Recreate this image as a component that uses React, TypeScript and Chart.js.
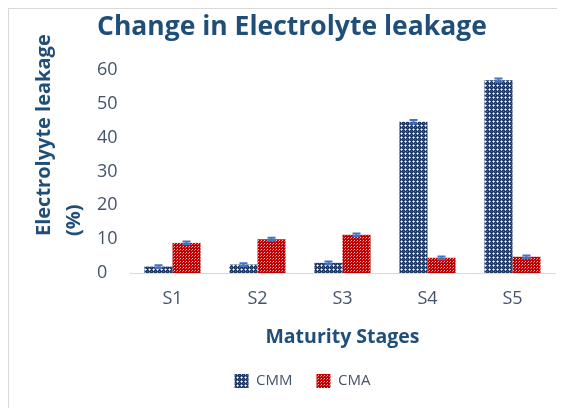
import React, { useEffect, useRef } from 'react';
import { Chart, registerables } from 'chart.js';
Chart.register(...registerables);

const categories = ['S1', 'S2', 'S3', 'S4', 'S5'];
const cmmValues = [1.9, 2.5, 3.0, 44.7, 57.0];
const cmaValues = [8.9, 10.0, 11.3, 4.5, 4.8];
const cmmErrors = [0.4, 0.4, 0.4, 0.5, 0.5];
const cmaErrors = [0.4, 0.4, 0.4, 0.4, 0.4];
const yTickValues = [0, 10, 20, 30, 40, 50, 60];
const seriesNames = ['CMM', 'CMA'];
const chartTitle = 'Change in Electrolyte leakage';
const xTitle = 'Maturity Stages';
const yTitleLines = ['Electrolyyte leakage', '(%)'];

const FONT = "'Open Sans', 'DejaVu Sans', sans-serif";
const NAVY = '#1F4E79';
const TICK = '#44546A';

function makePattern(kind: 'cmm' | 'cma'): CanvasPattern | string {
  const c = document.createElement('canvas');
  const ctx = c.getContext('2d');
  if (!ctx) return kind === 'cmm' ? '#1F3864' : '#C00000';
  if (kind === 'cmm') {
    c.width = 4; c.height = 4;
    ctx.fillStyle = '#1F3864';
    ctx.fillRect(0, 0, 4, 4);
    ctx.fillStyle = '#ffffff';
    ctx.fillRect(0, 0, 1, 1);
    ctx.fillStyle = '#c3cbdd';
    ctx.fillRect(1, 0, 1, 1);
    ctx.fillRect(0, 1, 1, 1);
    ctx.fillStyle = '#8b9bc0';
    ctx.fillRect(3, 0, 1, 1);
    ctx.fillRect(0, 3, 1, 1);
    ctx.fillStyle = '#4a67a6';
    ctx.fillRect(2, 2, 1, 1);
  } else {
    c.width = 3; c.height = 3;
    ctx.fillStyle = '#C00000';
    ctx.fillRect(0, 0, 3, 3);
    ctx.fillStyle = '#f4c6c6';
    ctx.fillRect(0, 0, 1, 1);
    ctx.fillStyle = '#e07070';
    ctx.fillRect(2, 1, 1, 1);
  }
  const p = ctx.createPattern(c, 'repeat');
  return p || (kind === 'cmm' ? '#1F3864' : '#C00000');
}

const errorBarPlugin = {
  id: 'errorBars',
  afterDatasetsDraw(chart: any) {
    const ctx = chart.ctx;
    const y = chart.scales.y;
    const errs = [cmmErrors, cmaErrors];
    const vals = [cmmValues, cmaValues];
    ctx.save();
    ctx.strokeStyle = '#4472C4';
    ctx.lineWidth = 2;
    chart.data.datasets.forEach((_: any, i: number) => {
      const meta = chart.getDatasetMeta(i);
      meta.data.forEach((bar: any, j: number) => {
        const v = vals[i][j];
        const e = errs[i][j];
        const yt = y.getPixelForValue(v + e);
        const yb = y.getPixelForValue(v - e);
        const x = bar.x;
        ctx.beginPath();
        ctx.moveTo(x, yt); ctx.lineTo(x, yb);
        ctx.moveTo(x - 4, yt); ctx.lineTo(x + 4, yt);
        ctx.moveTo(x - 4, yb); ctx.lineTo(x + 4, yb);
        ctx.stroke();
      });
    });
    ctx.restore();
  },
};

const yTitlePlugin = {
  id: 'yTitle',
  afterDraw(chart: any) {
    const ctx = chart.ctx;
    const a = chart.chartArea;
    ctx.save();
    ctx.fillStyle = NAVY;
    ctx.font = `bold 20px ${FONT}`;
    ctx.textBaseline = 'middle';
    ctx.textAlign = 'left';
    const xs = [a.left - 85.5, a.left - 56];
    yTitleLines.forEach((t, i) => {
      ctx.save();
      ctx.translate(xs[i], a.bottom - 37);
      ctx.rotate(-Math.PI / 2);
      ctx.fillText(t, 0, 0);
      ctx.restore();
    });
    ctx.restore();
  },
};

const legendShiftPlugin = {
  id: 'legendShift',
  afterLayout(chart: any) {
    const lg = chart.legend;
    if (!lg) return;
    const targetX = 293.5;
    const shift = targetX - (lg.left + lg.right) / 2;
    lg.left += shift;
    lg.right += shift;
  },
};

export default function App() {
  const ref = useRef<HTMLCanvasElement>(null);
  useEffect(() => {
    if (!ref.current) return;
    const chart = new Chart(ref.current, {
      type: 'bar',
      data: {
        labels: categories,
        datasets: [
          {
            label: seriesNames[0],
            data: cmmValues,
            backgroundColor: makePattern('cmm') as any,
            borderWidth: 0,
          },
          {
            label: seriesNames[1],
            data: cmaValues,
            backgroundColor: makePattern('cma') as any,
            borderWidth: 0,
          },
        ],
      },
      options: {
        animation: false,
        responsive: false,
        devicePixelRatio: 1,
        layout: { padding: { left: 88, right: 10, top: 0, bottom: 9.5 } },
        datasets: { bar: { categoryPercentage: 0.66, barPercentage: 1.0 } },
        plugins: {
          title: {
            display: true,
            text: chartTitle,
            align: 'start',
            color: NAVY,
            font: { family: FONT, size: 26.5, weight: 'bold' },
            padding: { top: 2.6, bottom: 26.6 },
          },
          legend: {
            position: 'bottom',
            labels: {
              color: '#44546A',
              font: { family: FONT, size: 15 },
              boxWidth: 14,
              boxHeight: 14,
              padding: 24,
            },
          },
          tooltip: { enabled: false },
        },
        scales: {
          x: {
            grid: { display: true, color: 'rgba(0,0,0,0)', drawTicks: false },
            border: { display: true, color: '#D9D9D9', width: 1 },
            ticks: { color: TICK, font: { family: FONT, size: 18 }, padding: 14.8 },
            title: {
              display: true,
              text: xTitle,
              color: NAVY,
              font: { family: FONT, size: 19.5, weight: 'bold' },
              padding: { top: 0, bottom: 0.8 },
            },
            afterFit(scale: any) { scale.height = 76.5; },
          },
          y: {
            min: 0,
            max: 60,
            afterBuildTicks(scale: any) { scale.ticks = yTickValues.map((v) => ({ value: v })); },
            grid: { display: false, drawTicks: false },
            border: { display: false },
            ticks: { color: TICK, font: { family: FONT, size: 18 }, crossAlign: 'far', padding: 8 },
            afterFit(scale: any) { scale.width = 33; },
          },
        },
      } as any,
      plugins: [errorBarPlugin, yTitlePlugin, legendShiftPlugin],
    });
    return () => chart.destroy();
  }, []);
  return (
    <div style={{ width: 557, height: 400, borderTop: '1px solid #D9D9D9', borderLeft: '1px solid #D9D9D9', boxSizing: 'border-box', background: '#fff' }}>
      <canvas ref={ref} width={556} height={399} style={{ display: 'block' }} />
    </div>
  );
}
